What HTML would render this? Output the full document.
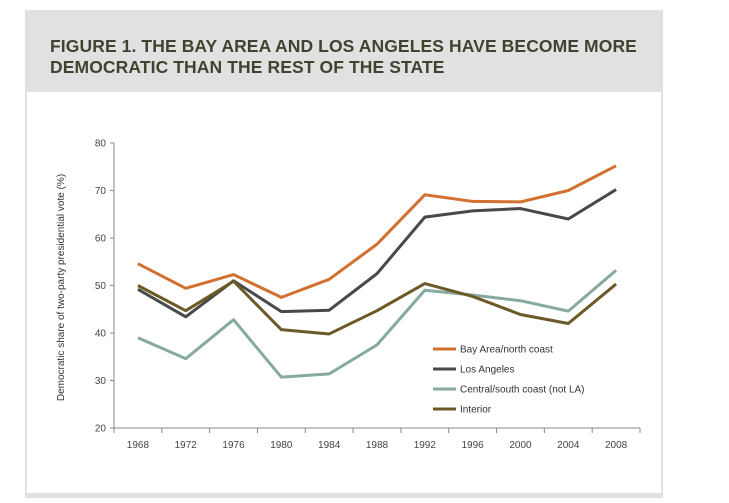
<!DOCTYPE html>
<html><head><meta charset="utf-8"><style>
body{margin:0;width:729px;height:503px;background:#fff;font-family:"Liberation Sans",sans-serif;overflow:hidden}
#frame{position:absolute;left:25px;top:10px;width:638px;height:488px;background:#e1e1e1}
#title{position:absolute;left:25px;top:26px;margin:0;font-size:17.5px;font-weight:bold;color:#3f4430;line-height:21px;letter-spacing:0.1px}
#panel{position:absolute;left:2px;top:82px;width:634px;height:401px;background:#fff}
svg{position:absolute;left:0;top:0}
</style></head><body>
<div id="frame">
<h1 id="title">FIGURE 1. THE BAY AREA AND LOS ANGELES HAVE BECOME MORE<br>DEMOCRATIC THAN THE REST OF THE STATE</h1>
<div id="panel"></div>
</div>
<svg id="chart" width="729" height="503"></svg>
<script>
const years=["1968","1972","1976","1980","1984","1988","1992","1996","2000","2004","2008"];
const yTicks=[20,30,40,50,60,70,80];
const bayArea=[54.6,49.4,52.3,47.5,51.3,58.7,69.1,67.7,67.6,70.0,75.2];
const losAngeles=[49.2,43.4,51.0,44.5,44.8,52.5,64.4,65.7,66.2,64.0,70.2];
const central=[39.0,34.6,42.8,30.7,31.4,37.5,49.0,48.0,46.8,44.6,53.2];
const interior=[50.0,44.7,50.9,40.7,39.8,44.7,50.4,47.7,43.9,42.0,50.3];
const seriesNames=["Bay Area/north coast","Los Angeles","Central/south coast (not LA)","Interior"];

const svg=document.getElementById('chart');
const NS="http://www.w3.org/2000/svg";
const x0=114,x1=640,y0=428,y1=143,yMin=20,yMax=80;
const step=(x1-x0)/years.length;
const X=i=>x0+step*(i+0.5);
const Y=v=>y0-(v-yMin)/(yMax-yMin)*(y0-y1);
function mk(t,a,parent){const e=document.createElementNS(NS,t);for(const k in a)e.setAttribute(k,a[k]);(parent||svg).appendChild(e);return e;}
const ax="#888";
let e=mk('line',{x1:x0,y1:y1,x2:x0,y2:y0,stroke:ax,'stroke-width':1});


e=mk('line',{x1:x0,y1:y0,x2:x1,y2:y0,stroke:ax,'stroke-width':1});


yTicks.forEach(v=>{
  mk('line',{x1:x0-4,y1:Y(v),x2:x0,y2:Y(v),stroke:ax});
  const t=mk('text',{x:x0-8,y:Y(v)+3.5,'text-anchor':'end','font-size':10,fill:'#444'});
  t.textContent=v;
  
  
});
for(let i=0;i<=years.length;i++){mk('line',{x1:x0+step*i,y1:y0,x2:x0+step*i,y2:y0+5,stroke:ax});}
years.forEach((y,i)=>{
  const t=mk('text',{x:X(i),y:y0+20,'text-anchor':'middle','font-size':10,fill:'#444'});
  t.textContent=y;
  
  
});
const yt=mk('text',{x:0,y:0,'text-anchor':'middle','font-size':10,fill:'#333',transform:`translate(64,${(y0+y1)/2+2}) rotate(-90)`});
yt.textContent="Democratic share of two-party presidential vote (%)";


const data=[bayArea,losAngeles,central,interior];
const colors=["#d2702f","#47494a","#86aa9d","#6b5a27"];
const keys=["bay-area","los-angeles","central-south-coast","interior"];
data.forEach((d,s)=>{
  const p=mk('polyline',{points:d.map((v,i)=>X(i)+','+Y(v)).join(' '),fill:'none',stroke:colors[s],'stroke-width':3,'stroke-linejoin':'round'});
  
  
  const ly=349+s*20;
  const g=mk('g',{});
  
  
  mk('line',{x1:433,y1:ly,x2:456,y2:ly,stroke:colors[s],'stroke-width':3},g);
  const t=mk('text',{x:460,y:ly+3.5,'font-size':10,fill:'#333'},g);
  t.textContent=seriesNames[s];
});
</script>
</body></html>
